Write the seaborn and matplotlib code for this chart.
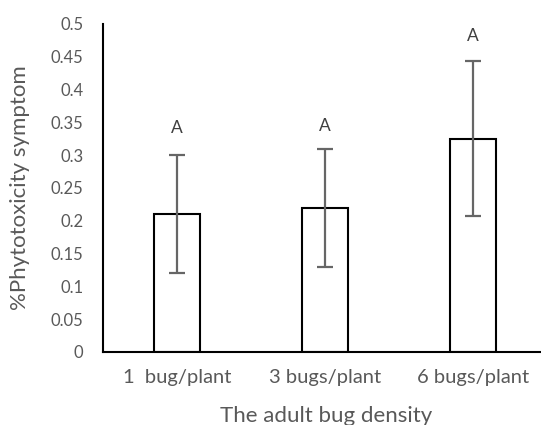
import matplotlib
matplotlib.use("Agg")
import matplotlib.pyplot as plt
import seaborn as sns
import pandas as pd

categories = ["1  bug/plant", "3 bugs/plant", "6 bugs/plant"]
values = [0.21, 0.22, 0.325]
errors = [0.09, 0.09, 0.118]
letters = ["A", "A", "A"]
letter_y = [0.341, 0.345, 0.481]
ytick_values = [0, 0.05, 0.1, 0.15, 0.2, 0.25, 0.3, 0.35, 0.4, 0.45, 0.5]
ytick_labels = ["0", "0.05", "0.1", "0.15", "0.2", "0.25", "0.3", "0.35", "0.4", "0.45", "0.5"]

sns.set_style("white")
plt.rcParams["font.family"] = ["Lato", "DejaVu Sans"]

df = pd.DataFrame({"density": categories, "value": values})

fig = plt.figure(figsize=(5.41, 4.25), dpi=100)
ax = fig.add_axes([103 / 541, 1 - 352 / 425, 1 - 103 / 541, (352 - 24) / 425])

sns.barplot(data=df, x="density", y="value", color="white", edgecolor="black",
            linewidth=1.5, width=0.31, errorbar=None, ax=ax)
ax.errorbar(range(len(values)), values, yerr=errors, fmt="none", ecolor="#666666",
            elinewidth=1.6, capsize=6, capthick=1.6, zorder=5)

for i, (t, yy) in enumerate(zip(letters, letter_y)):
    ax.text(i, yy, t, ha="center", va="center", fontsize=12.5, color="#404040")

ax.set_ylim(0, 0.5)
ax.set_xlim(-0.5, 2.46)
ax.set_yticks(ytick_values)
ax.set_yticklabels(ytick_labels)
ax.tick_params(axis="y", length=0, pad=14, labelsize=12, labelcolor="#595959")
ax.tick_params(axis="x", length=0, pad=12, labelsize=14.5, labelcolor="#595959")

for s in ["top", "right"]:
    ax.spines[s].set_visible(False)
ax.spines["left"].set_color("black")
ax.spines["left"].set_linewidth(1.5)
ax.spines["bottom"].set_color("black")
ax.spines["bottom"].set_linewidth(1.5)

ax.set_xlabel("The adult bug density", fontsize=16, color="#595959")
ax.set_ylabel("%Phytotoxicity symptom", fontsize=16, color="#595959")
ax.yaxis.set_label_coords(-83 / 438, 0.5)
ax.xaxis.set_label_coords((326 - 103) / 438, -(416 - 352) / 328)
ax.xaxis.label.set_verticalalignment("center")
ax.yaxis.label.set_verticalalignment("center")

fig.savefig("out.png", dpi=100)
